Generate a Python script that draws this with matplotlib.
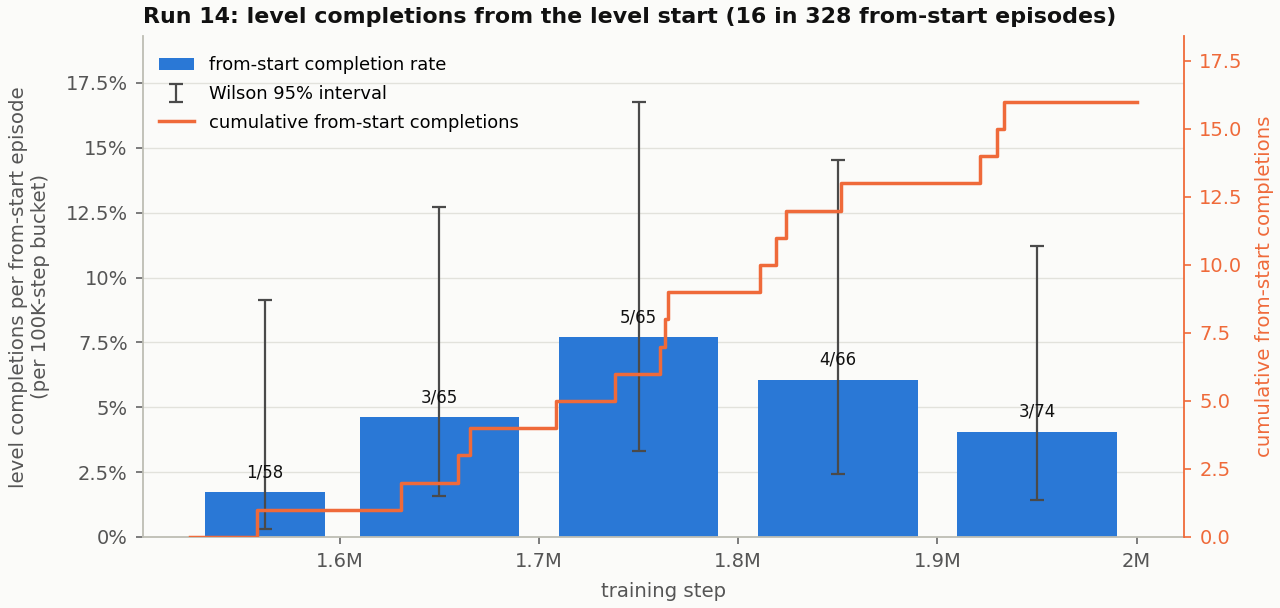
import numpy as np
import matplotlib
matplotlib.use("Agg")
import matplotlib.pyplot as plt
from matplotlib.ticker import FuncFormatter, MultipleLocator

# --- data ---
bucket_start = [1.525e6, 1.6e6, 1.7e6, 1.8e6, 1.9e6]
bucket_end = [1.6e6, 1.7e6, 1.8e6, 1.9e6, 2.0e6]
completions = [1, 3, 5, 4, 3]
episodes = [58, 65, 65, 66, 74]
wilson_low = [0.0030, 0.0158, 0.0333, 0.0242, 0.0142]
wilson_high = [0.0914, 0.1271, 0.1677, 0.1454, 0.1123]

# cumulative step curve (training step where each from-start completion happened)
cum_steps = [1.525e6, 1.5585e6, 1.631e6, 1.6594e6, 1.6656e6, 1.7087e6, 1.7380e6,
             1.7606e6, 1.7631e6, 1.7647e6, 1.8107e6, 1.8191e6, 1.8238e6,
             1.8517e6, 1.9215e6, 1.9300e6, 1.9333e6, 2.0e6]
cum_counts = [0, 1, 2, 3, 4, 5, 6, 7, 8, 9, 10, 11, 12, 13, 14, 15, 16, 16]

BLUE = "#2a78d6"
ORANGE = "#ef6a3a"
GREY = "#555555"
BG = "#fbfbf9"
SPINE = "#bebeb4"

plt.rcParams["font.family"] = ["DejaVu Sans"]

fig, ax = plt.subplots(figsize=(12.8, 6.08), dpi=100)
fig.patch.set_facecolor(BG)
ax.set_facecolor(BG)
fig.subplots_adjust(left=0.1117, right=0.925, bottom=0.1168, top=0.94)

starts = np.array(bucket_start)
ends = np.array(bucket_end)
centers = (starts + ends) / 2
widths = 0.8 * (ends - starts)
rates = np.array(completions) / np.array(episodes)
lo = np.array(wilson_low)
hi = np.array(wilson_high)

ax.grid(axis="y", color="#e2e2dc", lw=1.0, zorder=0)
ax.set_axisbelow(True)
bars = ax.bar(centers, rates, width=widths, color=BLUE, zorder=2,
              label="from-start completion rate")
eb = ax.errorbar(centers, rates, yerr=[rates - lo, hi - rates], fmt="none",
                 ecolor="#4a4a4a", elinewidth=1.6, capsize=5, capthick=1.6,
                 zorder=3, label="Wilson 95% interval")
for c, r, k, n in zip(centers, rates, completions, episodes):
    ax.annotate(f"{k}/{n}", (c, r), xytext=(0, 8), textcoords="offset points",
                ha="center", va="bottom", fontsize=12, color="#111111", zorder=4)

ax.set_ylim(0, 0.1929)
ax.yaxis.set_major_locator(MultipleLocator(0.025))
ax.yaxis.set_major_formatter(FuncFormatter(lambda v, p: f"{v*100:g}%"))
ax.xaxis.set_major_locator(MultipleLocator(1e5))
ax.xaxis.set_major_formatter(FuncFormatter(lambda v, p: f"{v/1e6:g}M"))
ax.set_xlabel("training step", fontsize=14.2, color=GREY, labelpad=8)
ax.set_ylabel("level completions per from-start episode\n(per 100K-step bucket)",
              fontsize=14.2, color=GREY, labelpad=11)
ax.tick_params(colors=GREY, labelsize=14, length=5, width=1.2, pad=6)
ax.tick_params(axis="both", color="#666666")
for s in ["top", "right"]:
    ax.spines[s].set_visible(False)
for s in ["left", "bottom"]:
    ax.spines[s].set_color(SPINE)
    ax.spines[s].set_linewidth(1.3)

ax2 = ax.twinx()
line, = ax2.step(cum_steps, cum_counts, where="post", color=ORANGE, lw=2.5,
                 label="cumulative from-start completions", zorder=5)
ax2.set_ylim(0, 18.4)
ax2.yaxis.set_major_locator(MultipleLocator(2.5))
ax2.yaxis.set_major_formatter(FuncFormatter(lambda v, p: f"{v:.1f}"))
ax2.set_ylabel("cumulative from-start completions", fontsize=14.2, color=ORANGE,
               labelpad=9)
ax2.tick_params(axis="y", colors=ORANGE, labelsize=14, length=5, width=1.2, pad=6)
for s in ["top", "left", "bottom"]:
    ax2.spines[s].set_visible(False)
ax2.spines["right"].set_color(ORANGE)
ax2.spines["right"].set_linewidth(1.3)

ax.margins(x=0.05)

leg = ax2.legend([bars, eb, line],
                 ["from-start completion rate", "Wilson 95% interval",
                  "cumulative from-start completions"],
                 loc="upper left", frameon=False, fontsize=12.9,
                 labelspacing=0.6, borderaxespad=0.7,
                 bbox_to_anchor=(-0.004, 1.0))

ax.set_title("Run 14: level completions from the level start (16 in 328 from-start episodes)",
             fontsize=15.9, fontweight="bold", color="#111111", pad=10, loc="left")

fig.savefig("out.png", dpi=100, facecolor=BG)
